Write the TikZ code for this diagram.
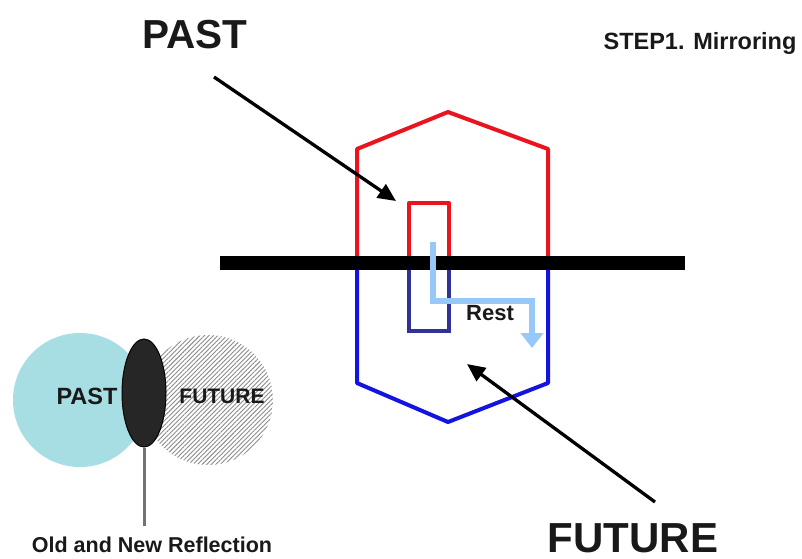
\documentclass[tikz,border=0pt]{standalone}
\usepackage{fontspec}
\setmainfont{Liberation Sans}
\usetikzlibrary{arrows.meta,patterns.meta,shapes.geometric}
\definecolor{pastcyan}{RGB}{166,222,228}
\definecolor{hexred}{RGB}{235,20,30}
\definecolor{hexblue}{RGB}{20,20,225}
\definecolor{innerblue}{RGB}{50,50,150}
\definecolor{restblue}{RGB}{150,200,250}
\definecolor{reflgray}{RGB}{38,38,38}
\tikzset{
  lbl/.style={font=\bfseries, inner sep=0pt, text=black!90},
  bigarrow/.style={line width=3.3pt, -{Triangle[length=18pt,width=16pt]}},
  redline/.style={draw=hexred, line width=4pt, line join=round},
  blueline/.style={draw=hexblue, line width=4pt, line join=round},
}
\begin{document}
\begin{tikzpicture}[x=1pt,y=-1pt]
\useasboundingbox[fill=white] (0,0) rectangle (802,558);

% --- Venn sketch: past, future and their overlap ---
\fill[pastcyan] (80,400) circle (67);
\fill[pattern={Lines[angle=45,distance=3.2pt,line width=0.9pt]}, pattern color=black!45] (208,400) circle (65);
\node[draw=black, line width=1pt, fill=reflgray, ellipse, minimum width=44pt, minimum height=108pt, inner sep=0pt] (overlap) at (144,393) {};
\node[lbl, font=\bfseries\fontsize{23.5}{26}\selectfont] (vpast) at (87,396) {PAST};
\node[lbl, font=\bfseries\fontsize{21}{24}\selectfont] (vfuture) at (222,396) {FUTURE};
\node[lbl, font=\bfseries\fontsize{21.5}{24}\selectfont] (refl) at (152,545) {Old and New Reflection};
\coordinate (reflend) at (144,526);
\draw[black!55, line width=3pt] (overlap.south) -- (reflend);

% --- Mirrored hexagon ---
\coordinate (htop) at (448,112);
\coordinate (hul) at (357,149);
\coordinate (hur) at (548,149);
\coordinate (hml) at (357,263);
\coordinate (hmr) at (548,263);
\coordinate (hll) at (357,383);
\coordinate (hlr) at (548,383);
\coordinate (hbot) at (448,422);
\draw[redline] (hml) -- (hul) -- (htop) -- (hur) -- (hmr);
\draw[blueline] (hml) -- (hll) -- (hbot) -- (hlr) -- (hmr);

% inner blocks above and below the mirror
\draw[redline] (409,263) |- (449,203) -- (449,263);
\draw[draw=innerblue, line width=4pt] (409,263) rectangle (449,331);

% mirror bar
\coordinate (barl) at (220,263);
\coordinate (barr) at (685,263);
\draw[line width=14pt] (barl) -- (barr);

% rest path
\coordinate (rs) at (433,242);
\coordinate (rc) at (433,301);
\coordinate (rr) at (532,301);
\coordinate (re) at (532,348);
\draw[restblue, line width=6pt, -{Triangle[length=15pt,width=22pt]}] (rs) -- (rc) -- (rr) -- (re);
\node[lbl, font=\bfseries\fontsize{22}{26}\selectfont] (rest) at (490,313) {Rest};

% --- Labels with pointers ---
\node[lbl, font=\bfseries\fontsize{40.5}{46}\selectfont] (past) at (195,35) {PAST};
\node[lbl, font=\bfseries\fontsize{42}{46}\selectfont] (future) at (633,538) {FUTURE};
\node[lbl, font=\bfseries\fontsize{23.5}{26}\selectfont] (step) at (700,43) {STEP1. Mirroring};
\coordinate (pastfrom) at (214,77);
\coordinate (pastto) at (396,201);
\coordinate (futfrom) at (655,502);
\coordinate (futto) at (467,364);
\draw[bigarrow] (pastfrom) -- (pastto);
\draw[bigarrow] (futfrom) -- (futto);
\end{tikzpicture}
\end{document}
